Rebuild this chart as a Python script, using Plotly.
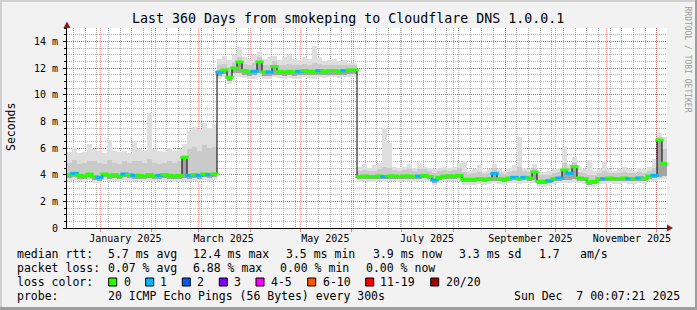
import numpy as np
import pandas as pd
import plotly.graph_objects as go

# ---------------- data ----------------
start_time = "2024-12-12 00:07:21"
end_time = "2025-12-07 00:07:21"
step_days = 3

median_ms = [
    4.0, 4.1, 3.95, 3.9, 4.05, 3.85, 3.8, 4.05, 3.95, 4.0, 3.9, 4.05, 4.0, 3.95, 3.95,
    3.9, 4.0, 3.9, 3.95, 4.0, 3.95, 3.9, 3.95, 5.3, 3.95, 4.0, 3.95, 4.05, 4.0, 4.05,
    11.7, 11.85, 11.3, 12.0, 12.45, 11.8, 11.7, 11.75, 12.45, 11.7, 11.7, 12.1, 11.75, 11.7,
    11.75, 11.7, 11.75, 11.8, 11.75, 11.75, 11.8, 11.75, 11.8, 11.8, 11.75, 11.8, 11.85, 11.85,
    3.85, 3.9, 3.85, 3.85, 3.9, 3.85, 3.9, 3.9, 3.85, 3.9, 3.9, 3.85, 3.9, 3.95, 3.85, 3.6,
    3.8, 3.9, 3.9, 3.9, 3.95,
    3.65, 3.65, 3.65, 3.7, 3.65, 3.7, 4.1, 3.7, 3.65, 3.75, 3.8, 3.7, 3.8, 3.75, 4.2, 3.5,
    3.5, 3.55, 3.7, 3.75, 4.35, 4.1, 4.6, 3.75, 3.7, 3.45, 3.5, 3.7, 3.7, 3.75, 3.7, 3.7,
    3.75, 3.7, 3.7, 3.75, 3.7, 3.9, 3.95, 6.6, 4.85,
]
smoke_max = [
    5.7, 6.0, 5.6, 5.7, 6.3, 5.9, 5.8, 5.6, 6.6, 5.8, 5.7, 5.8, 5.6, 6.5, 5.9,
    5.8, 8.6, 5.9, 5.8, 5.7, 6.0, 5.8, 5.9, 6.3, 7.3, 7.6, 7.4, 7.9, 7.5, 7.8,
    12.7, 12.9, 12.6, 13.0, 13.6, 12.8, 12.7, 13.0, 13.2, 12.7, 12.8, 12.9, 12.6, 12.8,
    13.0, 12.7, 12.6, 12.8, 12.7, 13.65, 12.8, 12.5, 12.6, 12.7, 12.5, 12.6, 12.4, 12.4,
    4.6, 4.8, 4.5, 4.7, 4.9, 7.5, 6.4, 4.6, 4.5, 4.6, 4.8, 4.5, 4.9, 4.6, 4.5, 4.4,
    4.5, 4.6, 4.5, 4.6, 4.9,
    5.0, 4.3, 4.4, 4.7, 4.3, 4.4, 4.8, 4.4, 4.3, 4.5, 4.7, 6.8, 4.5, 4.4, 4.8, 4.2,
    4.2, 4.3, 4.4, 4.5, 6.1, 4.8, 5.3, 4.5, 4.4, 5.1, 4.3, 4.4, 5.0, 4.4, 4.3, 4.4,
    4.6, 4.4, 4.3, 4.5, 4.4, 4.6, 5.2, 7.1, 6.8,
]
smoke_hi = [
    4.9, 5.1, 4.8, 4.9, 5.0, 5.0, 4.9, 4.8, 5.1, 4.9, 4.8, 5.0, 4.9, 5.0, 5.0,
    4.9, 5.2, 4.9, 4.8, 4.9, 5.0, 4.9, 5.0, 5.5, 5.9, 6.1, 5.8, 6.2, 6.0, 6.1,
    12.2, 12.3, 12.1, 12.4, 12.8, 12.3, 12.2, 12.4, 12.8, 12.2, 12.2, 12.5, 12.2, 12.2,
    12.3, 12.2, 12.2, 12.3, 12.2, 12.4, 12.3, 12.2, 12.2, 12.25, 12.2, 12.2, 12.2, 12.2,
    4.3, 4.35, 4.3, 4.3, 4.4, 4.6, 4.5, 4.35, 4.3, 4.35, 4.4, 4.3, 4.4, 4.4, 4.3, 4.1,
    4.25, 4.35, 4.3, 4.35, 4.5,
    4.2, 4.05, 4.1, 4.2, 4.05, 4.15, 4.5, 4.15, 4.05, 4.2, 4.3, 4.6, 4.25, 4.2, 4.5, 3.95,
    3.95, 4.0, 4.15, 4.2, 4.9, 4.5, 4.95, 4.2, 4.15, 4.0, 3.95, 4.15, 4.3, 4.15, 4.1, 4.15,
    4.2, 4.15, 4.1, 4.2, 4.15, 4.3, 4.5, 6.8, 5.9,
]
smoke_lo = [
    3.75, 3.85, 3.7, 3.65, 3.8, 3.6, 3.55, 3.8, 3.7, 3.75, 3.65, 3.8, 3.75, 3.7, 3.7,
    3.65, 3.75, 3.65, 3.7, 3.75, 3.7, 3.65, 3.7, 3.75, 3.7, 3.75, 3.7, 3.8, 3.75, 3.8,
    11.4, 11.55, 11.0, 11.6, 11.6, 11.5, 11.4, 11.45, 11.6, 11.4, 11.4, 11.5, 11.45, 11.4,
    11.45, 11.4, 11.45, 11.5, 11.45, 11.45, 11.5, 11.45, 11.5, 11.5, 11.45, 11.5, 11.55, 11.55,
    3.65, 3.7, 3.65, 3.65, 3.7, 3.65, 3.7, 3.7, 3.65, 3.7, 3.7, 3.65, 3.7, 3.75, 3.65, 3.4,
    3.6, 3.7, 3.7, 3.7, 3.75,
    3.45, 3.45, 3.45, 3.5, 3.45, 3.5, 3.55, 3.5, 3.45, 3.55, 3.6, 3.5, 3.6, 3.55, 3.6, 3.3,
    3.3, 3.35, 3.5, 3.55, 3.6, 3.6, 3.65, 3.55, 3.5, 3.25, 3.3, 3.5, 3.5, 3.55, 3.5, 3.5,
    3.55, 3.5, 3.5, 3.55, 3.5, 3.7, 3.75, 3.8, 3.9,
]
smoke_min = [
    3.55, 3.6, 3.5, 3.45, 3.6, 3.4, 3.4, 3.6, 3.5, 3.55, 3.45, 3.6, 3.55, 3.5, 3.5,
    3.45, 3.55, 3.45, 3.5, 3.55, 3.5, 3.45, 3.5, 3.55, 3.5, 3.55, 3.5, 3.6, 3.55, 3.6,
    11.2, 11.3, 10.8, 11.35, 11.3, 11.25, 11.2, 11.2, 11.3, 11.2, 11.2, 11.3, 11.25, 11.2,
    11.25, 11.2, 11.2, 11.3, 11.25, 11.2, 11.3, 11.25, 11.3, 11.3, 11.25, 11.3, 11.35, 11.35,
    3.45, 3.5, 3.45, 3.45, 3.5, 3.45, 3.5, 3.5, 3.45, 3.5, 3.5, 3.45, 3.5, 3.55, 3.45, 3.2,
    3.4, 3.5, 3.5, 3.5, 3.55,
    3.25, 3.25, 3.25, 3.3, 3.25, 3.3, 3.35, 3.3, 3.25, 3.35, 3.4, 3.3, 3.4, 3.35, 3.4, 3.1,
    3.1, 3.15, 3.3, 3.35, 3.4, 3.4, 3.45, 3.35, 3.3, 3.05, 3.1, 3.3, 3.3, 3.35, 3.3, 3.3,
    3.35, 3.3, 3.3, 3.35, 3.3, 3.5, 3.55, 3.6, 3.7,
]
loss_count = [
    0, 1, 0, 0, 0, 0, 1, 0, 0, 0, 0, 1, 0, 1, 0, 0, 0, 0, 1, 0, 0, 0, 0, 0, 1, 0, 1, 0, 1, 0,
    1, 0, 0, 0, 0, 0, 0, 1, 0, 0, 1, 0, 0, 0, 0, 0, 1, 0, 0, 0, 1, 0, 0, 0, 0, 1, 0, 0, 0, 0,
    0, 0, 0, 1, 0, 0, 0, 0, 0, 0, 1, 0, 0, 1, 0, 0, 0, 0, 0, 0, 0, 0, 0, 0, 0, 1, 0, 0, 0, 1,
    0, 1, 0, 0, 0, 0, 1, 0, 1, 0, 1, 0, 0, 0, 0, 0, 0, 1, 0, 0, 0, 0, 1, 0, 1, 0, 0, 1, 0, 0,
]

month_grid = ["2025-%02d-01" % m for m in range(1, 13)]
label_dates = ["2025-01-16", "2025-03-16", "2025-05-16", "2025-07-16", "2025-09-16", "2025-11-16"]
label_text = ["January 2025", "March 2025", "May 2025", "July 2025", "September 2025", "November 2025"]
y_ticks = [0, 2, 4, 6, 8, 10, 12, 14]
y_tick_text = ["0", "2 m", "4 m", "6 m", "8 m", "10 m", "12 m", "14 m"]

loss_labels = ["0", "1", "2", "3", "4-5", "6-10", "11-19", "20/20"]
loss_colors = ["#26FF00", "#00B8FF", "#0059FF", "#7E00FF", "#FF00FF", "#FF5500", "#FF0000", "#A10000"]

stats_rows = [
    ["median rtt:", "5.7 ms avg", "12.4 ms max", "3.5 ms min", "3.9 ms now", "3.3 ms sd", "1.7", "am/s"],
    ["packet loss:", "0.07 % avg", "6.88 % max", "0.00 % min", "0.00 % now"],
]
probe_text = ["probe:", "20 ICMP Echo Pings (56 Bytes) every 300s"]
stamp_text = "Sun Dec  7 00:07:21 2025"
title_text = "Last 360 Days from smokeping to Cloudflare DNS 1.0.0.1"

# ---------------- layout geometry (pixels) ----------------
W, H = 697, 310
PL, PR, PT, PB = 67, 667, 28, 228
FONT = "DejaVu Sans Mono"


def px(x):
    return (x - PL) / (PR - PL)


def py(y):
    return (PB - y) / (PB - PT)


stats_x = [
    [16, 106.6, 192.0, 285.3, 372.0, 457.6, 537.6, 578.6],
    [16, 106.6, 192.0, 278.6, 365.0],
]
stats_y = [254.3, 268.3]
loss_box_x = [108.7, 145.7, 182.3, 219.3, 256.0, 307.7, 365.7, 430.7]
loss_lab_x = [122.6, 159.3, 196.0, 232.6, 270.0, 322.0, 379.3, 445.0]

# ---------------- derived ----------------
n = len(median_ms)
t0 = pd.Timestamp(start_time)
centers = t0 + pd.to_timedelta((np.arange(n) + 0.5) * step_days, unit="D")
bar_w = step_days * 86400 * 1000
med = np.array(median_ms)
smin, slo, shi, smax = map(np.array, (smoke_min, smoke_lo, smoke_hi, smoke_max))


def bucket(c):
    if c <= 3:
        return c
    if c <= 5:
        return 4
    if c <= 10:
        return 5
    if c <= 19:
        return 6
    return 7


seg_colors = [loss_colors[bucket(c)] for c in loss_count]

fig = go.Figure()
fig.add_trace(go.Bar(x=centers, base=smin, y=smax - smin, width=bar_w,
                     marker=dict(color="#DEDEDE", line=dict(width=0))))
fig.add_trace(go.Bar(x=centers, base=slo, y=shi - slo, width=bar_w,
                     marker=dict(color="#CACACA", line=dict(width=0))))
fig.add_trace(go.Bar(x=centers, base=slo, y=med - slo, width=bar_w,
                     marker=dict(color="#A4A4A4", line=dict(width=0))))
fig.add_trace(go.Scatter(x=centers, y=med, mode="lines",
                         line=dict(color="#000000", width=1, shape="hvh")))
fig.add_trace(go.Scatter(x=centers, y=med, mode="markers", xaxis="x2",
                         marker=dict(symbol="line-ew", size=6,
                                     line=dict(color=seg_colors, width=3))))

grid_dash = "1px,1px"
red_grid = "rgba(255,0,0,0.38)"
gray_grid = "rgba(100,100,100,0.5)"
fig.update_layout(
    width=W, height=H,
    margin=dict(l=PL, r=W - PR, t=PT, b=H - PB, pad=0),
    paper_bgcolor="#F2F2F2", plot_bgcolor="#FFFFFF",
    showlegend=False, barmode="overlay", bargap=0,
    font=dict(family=FONT, size=10, color="#000000"),
    xaxis=dict(
        type="date", range=[start_time, end_time],
        tickmode="array", tickvals=label_dates, ticktext=label_text,
        showgrid=False, ticks="", showline=True, linecolor="#000000", linewidth=1,
        tickfont=dict(family=FONT, size=10), ticklabelstandoff=1,
        minor=dict(tick0="2024-12-16", dtick=7 * 86400000, showgrid=True,
                   gridcolor=gray_grid, griddash=grid_dash, gridwidth=1),
        zeroline=False, fixedrange=True,
    ),
    xaxis2=dict(
        type="date", range=[start_time, end_time], overlaying="x", anchor="y",
        tickmode="array", tickvals=month_grid, showticklabels=False,
        showgrid=True, gridcolor=red_grid, griddash=grid_dash, gridwidth=1,
        ticks="outside", ticklen=3, tickcolor="rgba(255,0,0,0.5)", showline=False,
        zeroline=False,
    ),
    yaxis=dict(
        range=[0, 15], tickmode="array", tickvals=y_ticks, ticktext=y_tick_text,
        showgrid=True, gridcolor="rgba(255,0,0,0.45)", griddash=grid_dash, gridwidth=1,
        ticks="outside", ticklen=3, tickcolor="#000000",
        showline=True, linecolor="#000000", linewidth=1, zeroline=False,
        tickfont=dict(family=FONT, size=10), ticklabelstandoff=3,
        minor=dict(dtick=0.5, showgrid=True, gridcolor=gray_grid,
                   griddash=grid_dash, ticks="outside", ticklen=2, tickcolor="#000000"),
    ),
)

shapes = []
# frame
shapes.append(dict(type="rect", xref="paper", yref="paper", x0=px(0), x1=px(W), y0=py(0), y1=py(2),
                   fillcolor="#CFCFCF", line=dict(width=0), layer="above"))
shapes.append(dict(type="rect", xref="paper", yref="paper", x0=px(0), x1=px(2), y0=py(0), y1=py(H),
                   fillcolor="#CFCFCF", line=dict(width=0), layer="above"))
shapes.append(dict(type="rect", xref="paper", yref="paper", x0=px(0), x1=px(W), y0=py(H - 3), y1=py(H),
                   fillcolor="#9E9E9E", line=dict(width=0), layer="above"))
shapes.append(dict(type="rect", xref="paper", yref="paper", x0=px(W - 2), x1=px(W), y0=py(0), y1=py(H),
                   fillcolor="#9E9E9E", line=dict(width=0), layer="above"))
# axis arrows
shapes.append(dict(type="path", xref="paper", yref="paper",
                   path="M %f %f L %f %f L %f %f Z" % (px(PL), py(21.5), px(PL - 3.5), py(PT), px(PL + 3.5), py(PT)),
                   fillcolor="#8E1B1B", line=dict(width=0), layer="above"))
shapes.append(dict(type="path", xref="paper", yref="paper",
                   path="M %f %f L %f %f L %f %f Z" % (px(PR + 6), py(PB), px(PR), py(PB - 3.5), px(PR), py(PB + 3.5)),
                   fillcolor="#8E1B1B", line=dict(width=0), layer="above"))
# loss colour boxes
for bx, col in zip(loss_box_x, loss_colors):
    shapes.append(dict(type="rect", xref="paper", yref="paper",
                       x0=px(bx), x1=px(bx + 8), y0=py(286), y1=py(278),
                       fillcolor=col, line=dict(color="#000000", width=1), layer="above"))
fig.update_layout(shapes=shapes)

ann = []


def text(x, y, s, size=11.5, xanchor="left", color="#000000", angle=0):
    ann.append(dict(xref="paper", yref="paper", x=px(x), y=py(y), text=s, showarrow=False,
                    xanchor=xanchor, yanchor="middle", borderpad=0, textangle=angle,
                    font=dict(family=FONT, size=size, color=color)))


text(347.8, 18.7, title_text.replace(" ", "&nbsp;"), size=13.3, xanchor="center")
text(11, 127, "Seconds", size=11.5, xanchor="center", angle=-90)
text(687.5, 59, "RRDTOOL&nbsp;/&nbsp;TOBI&nbsp;OETIKER", size=8, xanchor="center", color="#9A9A9A", angle=90)
for row, xs, yy in zip(stats_rows, stats_x, stats_y):
    for s, xx in zip(row, xs):
        text(xx, yy, s.replace(" ", "&nbsp;"))
text(16, 282.3, "loss&nbsp;color:")
for lx, lab in zip(loss_lab_x, loss_labels):
    text(lx, 282.3, lab)
text(16, 295.5, probe_text[0])
text(106.6, 295.5, probe_text[1].replace(" ", "&nbsp;"))
text(680.5, 295.5, stamp_text.replace(" ", "&nbsp;"), xanchor="right")
fig.update_layout(annotations=ann)

fig.write_html("out.html")
